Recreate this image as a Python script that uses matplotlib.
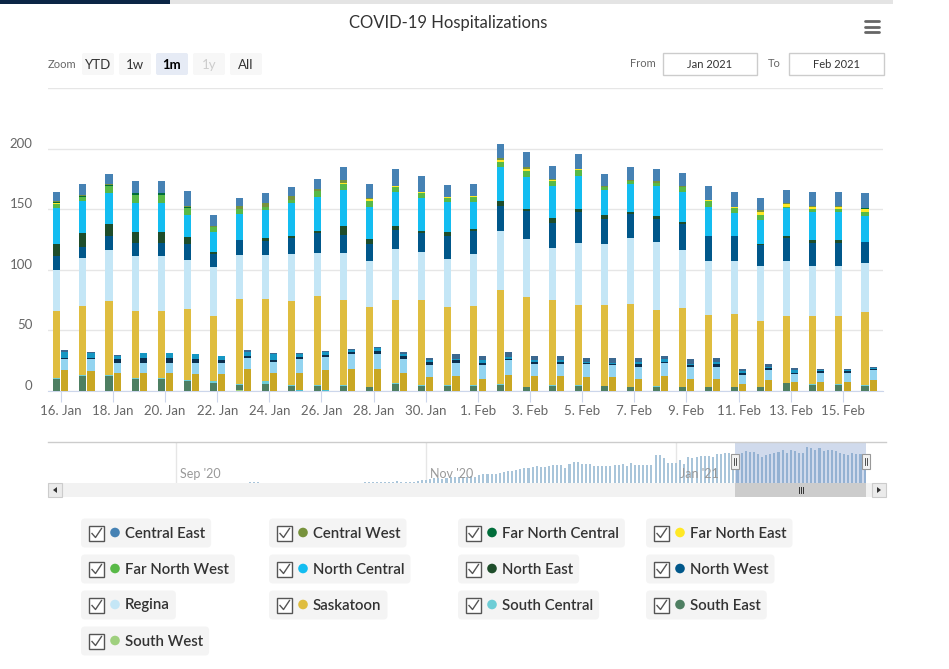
import matplotlib
matplotlib.use("Agg")
import matplotlib.pyplot as plt
import matplotlib.dates as mdates
import matplotlib.transforms as mtransforms
from matplotlib.patches import Rectangle, FancyBboxPatch, Circle, Polygon
import numpy as np
import pandas as pd

plt.rcParams['font.family'] = ['Lato', 'DejaVu Sans']

# ---- data ----
days = pd.date_range('2021-01-16', '2021-02-16', freq='D')

regions = ['Central East', 'Central West', 'Far North Central', 'Far North East',
           'Far North West', 'North Central', 'North East', 'North West',
           'Regina', 'Saskatoon', 'South Central', 'South East', 'South West']

region_colors = ['#4682b4', '#77923c', '#006d3a', '#ffe824',
                 '#58b947', '#13bdf1', '#1e4d2b', '#00578a',
                 '#c4e6f6', '#dfbd3f', '#6dcdd6', '#4e7f62', '#9fd07e']

# inpatient (left column of each day)
hosp_central_east = [8, 9, 8, 10, 10, 12, 9, 7, 8, 8, 8, 11, 11, 14, 13, 10,
                     10, 12, 13, 11, 12, 10, 10, 10, 10, 11, 12, 10, 11, 11, 11, 12]
hosp_central_west = [0.5, 0.5, 1, 0, 0, 1, 1, 2.5, 3, 2.5, 2, 2, 1, 0.5, 0, 0,
                     0, 1, 1, 1, 0.5, 1, 1.5, 1, 1, 0, 0, 1.5, 1, 1, 1, 0]
hosp_far_north_central = [1, 1, 1, 1, 1, 1, 0, 0, 0, 0, 0, 0, 0, 0, 0, 0,
                          0, 0, 0, 0, 0, 0, 0, 0, 0, 0, 0, 0, 0, 0, 0, 1]
hosp_far_north_east = [1, 0, 0, 0, 0, 0, 0, 0, 0, 0, 0, 1, 2, 1, 1, 1,
                       1, 2, 2, 1, 1, 0, 0, 0, 0, 1, 1, 2, 2, 2, 2, 2]
hosp_far_north_west = [3, 3, 6, 7, 7, 6, 4, 4, 3, 3, 5, 5, 5, 4, 4, 3,
                       4, 4, 5, 4, 5, 2, 2, 3, 4, 5, 4, 4, 1, 2, 2, 4]
hosp_north_central = [30, 27, 25, 24, 24, 18, 16, 21, 23, 27, 28, 30, 26, 28, 27, 25,
                      22, 28, 26, 26, 27, 21, 23, 25, 25, 24, 19, 20, 23, 23, 23, 21]
hosp_north_east = [10, 11, 10, 9, 9, 6, 2, 0, 2, 2, 2, 7, 4, 3, 2, 3,
                   2, 4, 2, 4, 2, 3, 2, 2, 2, 0.5, 0.5, 1, 2, 3, 3, 0]
hosp_north_west = [11, 9, 12, 11, 11, 13, 11, 13, 12, 13, 16, 15, 14, 16, 15, 19,
                   19, 21, 23, 21, 26, 21, 20, 19, 21, 20, 20, 17, 19, 19, 19, 17]
hosp_regina = [34, 40, 42, 45, 45, 40, 40, 36, 36, 39, 36, 39, 38, 42, 40, 40,
               43, 49, 48, 43, 51, 50, 54, 56, 48, 45, 44, 46, 45, 41, 41, 41]
hosp_saskatoon = [55, 57, 61, 55, 55, 59, 54, 70, 68, 69, 73, 70, 66, 68, 70, 64,
                  65, 77, 74, 70, 66, 67, 69, 63, 65, 59, 60, 54, 55, 56, 56, 60]
hosp_south_central = [1, 1, 1, 1, 1, 1, 1, 1, 2, 1, 1, 1, 0.5, 1, 1, 1,
                      1, 1, 0.5, 1, 1, 0, 0, 1, 0.5, 0.5, 0.5, 0.5, 0, 1, 1, 1]
hosp_south_east = [10, 12, 12, 10, 10, 8, 7, 4, 6, 4, 4, 4, 3, 6, 4, 4,
                   4, 5, 3, 4, 4, 4, 3, 3, 3, 3, 3, 3, 7, 5, 5, 4]
hosp_south_west = [0, 0, 0, 0, 0, 0, 0, 1, 0, 0, 0, 0, 0, 0, 0, 0,
                   0, 0, 0, 0, 0, 0, 0, 0, 0, 0, 0, 0, 0, 0, 0, 0]

# ICU (right column of each day)
icu_central_east = [1, 1, 1, 0, 0, 0, 0, 1, 1, 1, 1, 1.5, 1, 1.5, 1.5, 4,
                    3.5, 4, 3.5, 3.5, 3.5, 3.5, 3.5, 2.5, 3.5, 3.5, 1.5, 2.5, 1.5, 1, 1, 0.5]
icu_north_central = [5, 3.5, 2.5, 4, 4, 4, 3.5, 4, 5, 2.5, 2.5, 1.5, 2.5, 1.5, 1.5, 1,
                     2.5, 1.5, 1.5, 1.5, 1, 1, 1.5, 2.5, 1, 1.5, 1.5, 1, 2.5, 1, 1, 0.5]
icu_north_west = [1.5, 1.5, 2.5, 3.5, 3.5, 3.5, 2.5, 1.5, 1.5, 1.5, 1.5, 1.5, 2.5, 2.5, 2.5, 2.5,
                  1.5, 1, 1.5, 1.5, 1, 1, 2.5, 1, 1.5, 2.5, 1.5, 1.5, 1, 1.5, 1.5, 1]
icu_regina = [9, 9.5, 8.5, 8.5, 8.5, 9, 9, 9, 9, 11.5, 10.5, 12.5, 12.5, 11.5, 10, 10.5,
              11.5, 12.5, 10, 10, 10.5, 10, 10, 10.5, 10, 10, 7.5, 8.5, 6.5, 7.5, 7.5, 8.5]
icu_saskatoon = [17, 16.5, 15, 15, 15, 14, 14, 18, 15, 14, 16.5, 18, 18, 15, 11.5, 12.5,
                 10, 13, 12.5, 12.5, 11.5, 11.5, 10, 12.5, 10, 10, 6, 9, 7.5, 7.5, 7.5, 9]
icu_south_central = [0, 0, 0, 0, 0, 0, 0, 0, 0, 0.8, 0.8, 0, 0, 0, 0, 0,
                     0, 0, 0, 0, 0, 0, 0, 0, 0, 0, 0, 0, 0, 0, 0, 0]

icu_colors = {'Central East': '#3b6890', 'North Central': '#1697c3',
              'North West': '#0b2f4e', 'Regina': '#93d4f0',
              'Saskatoon': '#c9a723', 'South Central': '#4bbfcf'}

# navigator history before the zoomed month (daily totals)
nav_extra_dates = ['2020-08-07', '2020-09-19', '2020-09-20', '2020-09-21']
nav_extra_values = [2, 3, 3, 3]
nav_start = '2020-10-17'
nav_values = [6, 8, 8, 8, 8, 8, 8, 6, 10, 8, 6, 4, 6, 11, 15,
              19, 25, 27, 29, 24, 29, 32, 32, 36, 30, 36, 40, 36, 44, 48,
              48, 51, 51, 55, 63, 67, 67, 74, 80, 84, 84, 90, 93, 90, 90,
              97, 103, 99, 99, 86, 105, 116, 116, 105, 105, 105, 93, 93, 93, 93, 93,
              99, 99, 105, 93, 111, 99, 99, 99, 99, 99, 156, 156, 139, 112, 111,
              111, 128, 105, 145, 139, 145, 151, 151, 151, 147, 162, 162, 166, 170, 162]

hosp = dict(zip(regions, [hosp_central_east, hosp_central_west, hosp_far_north_central,
                          hosp_far_north_east, hosp_far_north_west, hosp_north_central,
                          hosp_north_east, hosp_north_west, hosp_regina, hosp_saskatoon,
                          hosp_south_central, hosp_south_east, hosp_south_west]))
icu = {'Central East': icu_central_east, 'North Central': icu_north_central,
       'North West': icu_north_west, 'Regina': icu_regina,
       'Saskatoon': icu_saskatoon, 'South Central': icu_south_central}
colors = dict(zip(regions, region_colors))

# ---- figure ----
W, H = 949, 669
fig = plt.figure(figsize=(W / 100, H / 100), dpi=100)


def box(l, t, r, b):
    return [l / W, 1 - b / H, (r - l) / W, (b - t) / H]


ax = fig.add_axes(box(48, 88, 883, 391))
x = np.arange(len(days))
bw = 0.27

bottom = np.zeros(len(days))
for name in reversed(regions):
    v = np.array(hosp[name], dtype=float)
    ax.bar(x - 0.15, v, width=bw, bottom=bottom, color=colors[name], linewidth=0, zorder=3)
    bottom += v
hosp_total = bottom.copy()

bottom = np.zeros(len(days))
for name in reversed(regions):
    if name not in icu:
        continue
    v = np.array(icu[name], dtype=float)
    ax.bar(x + 0.16, v, width=bw, bottom=bottom, color=icu_colors[name], linewidth=0, zorder=3)
    bottom += v

ax.set_xlim(-0.49, 31.54)
ax.set_ylim(0, 250)
ax.set_yticks([0, 50, 100, 150, 200, 250])
ax.set_yticklabels(['0', '50', '100', '150', '200', ''])
ax.grid(axis='y', color='#e6e6e6', linewidth=1, zorder=0)
ax.set_axisbelow(True)
for s in ['top', 'right', 'left']:
    ax.spines[s].set_visible(False)
ax.spines['bottom'].set_color('#ccd6eb')
ax.set_xticks(x[::2])
ax.set_xticklabels([f"{d.day}. {d.strftime('%b')}" for d in days[::2]])
ax.tick_params(axis='x', length=8, color='#ccd6eb', labelcolor='#666666', labelsize=9.5, pad=2)
ax.tick_params(axis='y', length=0, labelcolor='#666666', labelsize=9.5, pad=11)
shift = mtransforms.ScaledTranslation(0, 6 / 100, fig.dpi_scale_trans)
for lab in ax.get_yticklabels():
    lab.set_transform(lab.get_transform() + shift)

# ---- navigator ----
nav = fig.add_axes(box(48, 442, 868, 483))
early_dates = pd.date_range(nav_start, periods=len(nav_values), freq='D')
nav.bar(mdates.date2num(pd.to_datetime(nav_extra_dates)), nav_extra_values, width=0.5,
        color='#a9c5da', linewidth=0)
nav.bar(mdates.date2num(early_dates), nav_values, width=0.5, color='#a9c5da', linewidth=0)
nav.bar(mdates.date2num(days), hosp_total, width=0.5, color='#a9c5da', linewidth=0)
nav.set_xlim(mdates.date2num(pd.Timestamp('2020-07-31 18:30')),
             mdates.date2num(pd.Timestamp('2021-02-16 20:00')))
nav.set_ylim(0, 230)
nav.axis('off')
blend = mtransforms.blended_transform_factory(nav.transData, nav.transAxes)
for d, lab in [('2020-09-01', "Sep '20"), ('2020-11-01', "Nov '20"), ('2021-01-01', "Jan '21")]:
    dn = mdates.date2num(pd.Timestamp(d))
    nav.plot([dn, dn], [0, 1], transform=blend, color='#e6e6e6', lw=1, zorder=0)
    nav.text(dn + 1, 0.08, lab, transform=blend, fontsize=9, color='#999999',
             ha='left', va='bottom')
sel_l = mdates.date2num(days[0]) - 0.6
sel_r = mdates.date2num(days[-1]) + 0.4
nav.axvspan(sel_l, sel_r, color=(102 / 255, 133 / 255, 194 / 255, 0.3), lw=0, zorder=4)

# ---- page chrome drawn in pixel space ----
ui = fig.add_axes([0, 0, 1, 1], zorder=10)
ui.set_xlim(0, W)
ui.set_ylim(H, 0)
ui.axis('off')
ui.patch.set_alpha(0)

ui.add_patch(Rectangle((0, 0), 170, 4, color='#0b2545', lw=0))
ui.add_patch(Rectangle((170, 0), 723, 4, color='#e4e4e4', lw=0))
ui.text(448, 23, 'COVID-19 Hospitalizations', ha='center', va='center',
        fontsize=12, color='#333333')
for yy in [21, 26.5, 32]:
    ui.plot([865, 879], [yy, yy], color='#666666', lw=2, solid_capstyle='round')

ui.text(48, 64.5, 'Zoom', ha='left', va='center', fontsize=8, color='#666666')
for lab, l in zip(['YTD', '1w', '1m', '1y', 'All'], [82, 119, 156, 193, 230]):
    fc = '#e6ebf5' if lab == '1m' else '#f7f7f7'
    ui.add_patch(FancyBboxPatch((l, 53), 32, 22, boxstyle='round,pad=0,rounding_size=2',
                                fc=fc, ec='none'))
    tc = '#cccccc' if lab == '1y' else ('#000000' if lab == '1m' else '#333333')
    ui.text(l + 16, 65, lab, ha='center', va='center', fontsize=9.5, color=tc,
            fontweight='bold' if lab == '1m' else 'normal')

ui.text(656, 63.5, 'From', ha='right', va='center', fontsize=8, color='#666666')
ui.text(781, 63.5, 'To', ha='right', va='center', fontsize=8, color='#666666')
for l, r, lab in [(663, 757, 'Jan 2021'), (789, 884, 'Feb 2021')]:
    ui.add_patch(Rectangle((l, 53), r - l, 22, fc='white', ec='#cccccc', lw=1))
    ui.text((l + r) / 2, 64, lab, ha='center', va='center', fontsize=8, color='#333333')

# navigator frame, handles and scrollbar
ui.plot([48, 886], [442, 442], color='#cccccc', lw=1)
hl = nav.transData.transform((sel_l, 0))[0]
hr = nav.transData.transform((sel_r, 0))[0]
ui.add_patch(Rectangle((48, 483), 838, 14, fc='#f2f2f2', ec='none'))
ui.add_patch(Rectangle((hl, 483), hr - hl, 14, fc='#cccccc', ec='none'))
cx = (hl + hr) / 2
for dx in [-2, 0, 2]:
    ui.plot([cx + dx, cx + dx], [487, 493], color='#333333', lw=0.7)
for l in [48, 872]:
    ui.add_patch(Rectangle((l, 483), 14, 14, fc='#ebebeb', ec='#cccccc', lw=0.8))
ui.add_patch(Polygon([[57, 487], [57, 493], [53, 490]], color='#333333', lw=0))
ui.add_patch(Polygon([[877, 487], [877, 493], [881, 490]], color='#333333', lw=0))
for hx in [hl, hr]:
    ui.add_patch(Rectangle((hx - 4, 454), 8, 15, fc='#f2f2f2', ec='#999999', lw=0.8, zorder=5))
    for dx in [-1.2, 1.2]:
        ui.plot([hx + dx, hx + dx], [458, 465], color='#333333', lw=0.6, zorder=6)

# legend
renderer = fig.canvas.get_renderer()
col_left = [81, 269, 458, 646]
row_mid = [533, 569, 605, 641]
for i, name in enumerate(regions):
    l = col_left[i % 4]
    ym = row_mid[i // 4]
    t = ui.text(l + 44, ym + 0.5, name, ha='left', va='center', fontsize=10.8,
                color='#333333', fontweight='semibold', zorder=3)
    bb = t.get_window_extent(renderer)
    r = bb.x1 + 6
    ui.add_patch(FancyBboxPatch((l, ym - 14.5), r - l, 29,
                                boxstyle='round,pad=0,rounding_size=4',
                                fc='#f4f4f4', ec='none', zorder=1))
    ui.add_patch(Rectangle((l + 8, ym - 7.5), 15, 15, fc='white', ec='#555555', lw=1, zorder=2))
    ui.plot([l + 11, l + 14.5, l + 20.5], [ym + 0.5, ym + 4.5, ym - 4.5],
            color='#555555', lw=1, zorder=3)
    ui.add_patch(Circle((l + 34, ym - 0.5), 4.8, color=colors[name], lw=0, zorder=2))

fig.savefig('out.png', dpi=100)
